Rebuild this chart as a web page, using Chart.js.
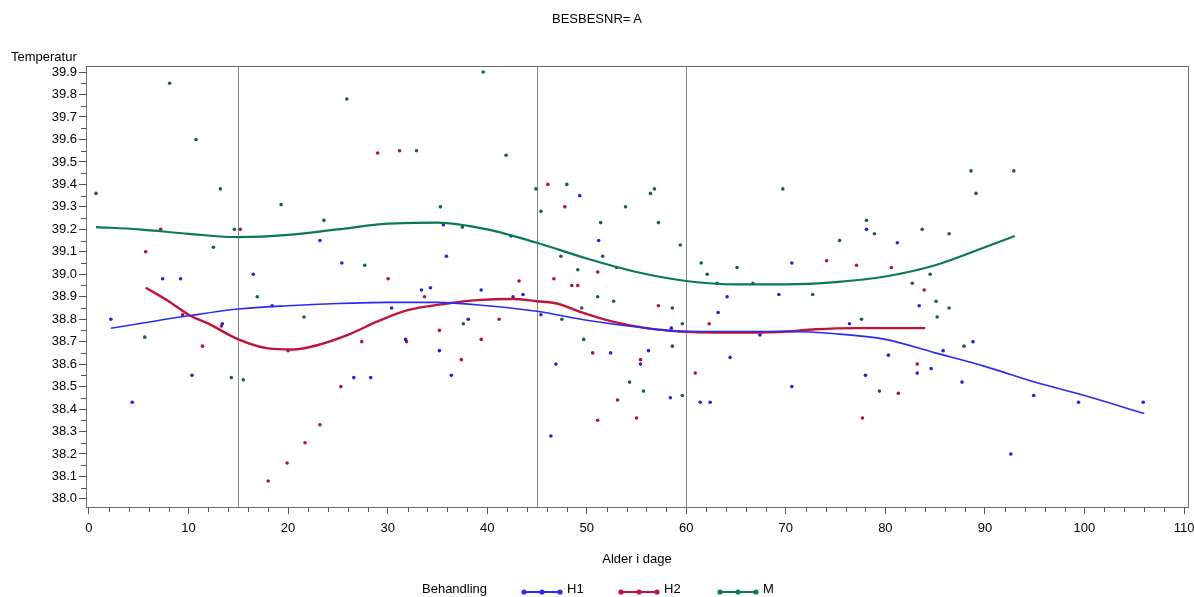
<!DOCTYPE html>
<html>
<head>
<meta charset="utf-8">
<script src="https://cdn.jsdelivr.net/npm/chart.js@4"></script>
<style>
  html, body { margin: 0; padding: 0; background: #fff; }
  #wrap { position: relative; width: 1194px; height: 597px; font-family: "Liberation Sans", Arial, sans-serif; color: #000; }
  #chart { position: absolute; left: 0; top: 0; }
  .lbl { position: absolute; font-size: 13px; line-height: 15px; white-space: nowrap; }
  .sym { position: absolute; }
</style>
</head>
<body>
<div id="wrap">
  <canvas id="chart" width="1194" height="597"></canvas>
  <div class="lbl" style="left:0;width:1194px;text-align:center;top:11px;">BESBESNR= A</div>
  <div class="lbl" style="left:11px;top:49px;">Temperatur</div>
  <div class="lbl" style="left:86px;width:1102px;text-align:center;top:551px;">Alder i dage</div>
  <div id="legend"></div>
</div>
<script>
// Series names and colours
const seriesNames = ['H1', 'H2', 'M'];
const lineColors = ['#2b2bf0', '#c0143c', '#0a7a50'];
const dotColors = ['#2424d8', '#b01238', '#1d5e48'];

// Axis ticks
const xTickLabels = [0, 10, 20, 30, 40, 50, 60, 70, 80, 90, 100, 110];
const yTickLabels = ['38.0', '38.1', '38.2', '38.3', '38.4', '38.5', '38.6', '38.7', '38.8', '38.9',
                     '39.0', '39.1', '39.2', '39.3', '39.4', '39.5', '39.6', '39.7', '39.8', '39.9'];
const refLines = [15, 45, 60];

// Observations - H1
const h1X = [2.2, 4.35, 7.4, 9.2, 10.35, 13.4, 16.5, 18.4, 23.2, 25.4, 26.6, 28.3, 30.4, 31.8, 33.4, 34.3,
             35.2, 35.6, 35.9, 36.4, 38.1, 39.4, 42.4, 42.6, 43.6, 45.4, 46.4, 46.9, 49.3, 51.2, 52.4, 55.4,
             56.2, 58.4, 58.5, 61.4, 62.4, 63.2, 64.1, 64.4, 67.4, 69.3, 70.6, 70.6, 76.4, 78.0, 78.1, 80.3,
             81.2, 83.2, 83.4, 84.6, 85.8, 87.7, 88.8, 92.6, 94.9, 99.4, 105.9];
const h1Y = [38.80, 38.43, 38.98, 38.98, 38.55, 38.78, 39.00, 38.86, 39.15, 39.05, 38.54, 38.54, 38.85, 38.71, 38.93, 38.94,
             38.66, 39.22, 39.08, 38.55, 38.80, 38.93, 39.17, 38.90, 38.91, 38.82, 38.28, 38.60, 39.35, 39.15, 38.65, 38.60,
             38.66, 38.45, 38.76, 38.43, 38.43, 38.83, 38.90, 38.63, 38.73, 38.91, 39.05, 38.50, 38.78, 38.55, 39.20, 38.64,
             39.14, 38.56, 38.86, 38.58, 38.66, 38.52, 38.70, 38.20, 38.46, 38.43, 38.43];

// Observations - H2
const h2X = [5.7, 7.2, 9.4, 11.4, 13.3, 15.2, 18.0, 19.9, 20.0, 21.7, 23.2, 25.3, 27.4, 29.0, 30.05, 31.2,
             31.9, 33.7, 35.2, 37.4, 39.4, 41.2, 43.2, 46.1, 46.7, 47.8, 48.5, 49.1, 50.6, 51.1, 51.1, 53.0,
             53.1, 55.0, 55.4, 57.2, 60.9, 62.3, 74.1, 77.1, 77.7, 80.6, 81.3, 83.2, 83.9];
const h2Y = [39.10, 39.20, 38.82, 38.68, 38.77, 39.20, 38.08, 38.16, 38.66, 38.25, 38.33, 38.50, 38.70, 39.54, 38.98, 39.55,
             38.70, 38.90, 38.75, 38.62, 38.71, 38.80, 38.97, 39.40, 38.98, 39.30, 38.95, 38.95, 38.65, 39.01, 38.35, 39.03,
             38.44, 38.36, 38.62, 38.86, 38.56, 38.78, 39.06, 39.04, 38.36, 39.03, 38.47, 38.60, 38.93];

// Observations - M
const mX = [0.7, 5.6, 8.1, 10.75, 12.5, 13.2, 14.3, 14.6, 15.5, 16.9, 19.3, 21.6, 23.6, 25.9, 27.7, 32.9,
            35.3, 37.5, 37.6, 39.6, 41.9, 44.9, 45.4, 47.4, 47.5, 48.0, 49.1, 49.5, 49.7, 51.1, 51.4, 51.6,
            52.7, 53.9, 54.3, 55.7, 56.4, 56.8, 57.2, 58.6, 58.6, 59.4, 59.6, 59.6, 61.5, 62.1, 63.1, 65.1,
            66.7, 69.7, 72.7, 75.4, 77.6, 78.1, 78.9, 79.4, 82.7, 83.7, 84.5, 85.1, 85.2, 86.4, 86.4, 87.9,
            88.6, 89.1, 92.9];
const mY = [39.36, 38.72, 39.85, 39.60, 39.12, 39.38, 38.54, 39.20, 38.53, 38.90, 39.31, 38.81, 39.24, 39.78, 39.04, 39.55,
            39.30, 39.21, 38.78, 39.90, 39.53, 39.38, 39.28, 39.08, 38.80, 39.40, 39.02, 38.85, 38.71, 38.90, 39.23, 39.08,
            38.88, 39.30, 38.52, 38.48, 39.36, 39.38, 39.23, 38.85, 38.68, 39.13, 38.78, 38.46, 39.05, 39.00, 38.96, 39.03,
            38.96, 39.38, 38.91, 39.15, 38.80, 39.24, 39.18, 38.48, 38.96, 39.20, 39.00, 38.88, 38.81, 39.18, 38.85, 38.68,
            39.46, 39.36, 39.46];

// Smoothed curves
const h1FitX = [2.2, 5, 10, 15, 20, 25, 30, 35, 40, 45, 50, 55, 60, 65, 70, 75, 80, 85, 90, 95, 100, 106];
const h1FitY = [38.76, 38.78, 38.815, 38.845, 38.86, 38.87, 38.875, 38.875, 38.86, 38.835, 38.795, 38.765,
                38.745, 38.745, 38.745, 38.735, 38.71, 38.65, 38.59, 38.52, 38.46, 38.38];
const h2FitX = [5.7, 8, 10, 12, 15, 18, 20.5, 23, 26, 29, 32, 36, 39, 42.5, 45, 47, 49.5, 52.5, 56, 59.5,
                63, 67, 70, 73, 77, 80, 84];
const h2FitY = [38.94, 38.88, 38.82, 38.78, 38.71, 38.67, 38.665, 38.685, 38.73, 38.79, 38.84, 38.87, 38.885,
                38.89, 38.88, 38.87, 38.83, 38.79, 38.76, 38.745, 38.74, 38.74, 38.745, 38.755, 38.76, 38.76, 38.76];
const mFitX = [0.7, 5, 10, 15, 20, 25, 30, 35, 40, 45, 50, 55, 60, 65, 70, 75, 80, 85, 90, 93];
const mFitY = [39.21, 39.20, 39.18, 39.165, 39.175, 39.20, 39.225, 39.23, 39.20, 39.14, 39.07, 39.01,
               38.97, 38.955, 38.955, 38.965, 38.99, 39.04, 39.12, 39.17];

const pts = (xs, ys) => xs.map((x, i) => ({ x: x, y: ys[i] }));

const pointSets = [pts(h1X, h1Y), pts(h2X, h2Y), pts(mX, mY)];
const fitSets = [pts(h1FitX, h1FitY), pts(h2FitX, h2FitY), pts(mFitX, mFitY)];
const lineWidths = [1.6, 2.4, 2.2];

const datasets = [];
seriesNames.forEach((name, i) => {
    datasets.push({
        label: name,
        data: pointSets[i],
        showLine: false,
        pointRadius: 1.8,
        pointBackgroundColor: dotColors[i],
        pointBorderWidth: 0,
        order: 2
    });
    datasets.push({
        label: name + ' fit',
        data: fitSets[i],
        showLine: true,
        borderColor: lineColors[i],
        borderWidth: lineWidths[i],
        pointRadius: 0,
        cubicInterpolationMode: 'monotone',
        order: 1
    });
});

// Reference lines, frame and minor ticks
const decorPlugin = {
    id: 'decor',
    beforeDatasetsDraw(chart) {
        const ctx = chart.ctx, a = chart.chartArea, xs = chart.scales.x;
        ctx.save();
        ctx.strokeStyle = '#8a8a8a';
        ctx.lineWidth = 1;
        refLines.forEach(v => {
            const px = Math.round(xs.getPixelForValue(v)) + 0.5;
            ctx.beginPath();
            ctx.moveTo(px, a.top);
            ctx.lineTo(px, a.bottom);
            ctx.stroke();
        });
        ctx.restore();
    },
    afterDraw(chart) {
        const ctx = chart.ctx, a = chart.chartArea;
        const xs = chart.scales.x, ys = chart.scales.y;
        ctx.save();
        ctx.strokeStyle = '#555';
        ctx.lineWidth = 1;
        // minor ticks
        for (let i = 0; i < xTickLabels.length - 1; i++) {
            for (let k = 1; k < 5; k++) {
                const v = xTickLabels[i] + (xTickLabels[i + 1] - xTickLabels[i]) * k / 5;
                const px = Math.round(xs.getPixelForValue(v)) + 0.5;
                ctx.beginPath();
                ctx.moveTo(px, a.bottom);
                ctx.lineTo(px, a.bottom + 5);
                ctx.stroke();
            }
        }
        for (let i = 0; i < yTickLabels.length - 1; i++) {
            const v = (parseFloat(yTickLabels[i]) + parseFloat(yTickLabels[i + 1])) / 2;
            const py = Math.round(ys.getPixelForValue(v)) + 0.5;
            ctx.beginPath();
            ctx.moveTo(a.left, py);
            ctx.lineTo(a.left - 5, py);
            ctx.stroke();
        }
        // frame
        ctx.strokeStyle = '#6e6e6e';
        ctx.strokeRect(Math.round(a.left) + 0.5, Math.round(a.top) + 0.5,
                       Math.round(a.right - a.left), Math.round(a.bottom - a.top));
        ctx.restore();
    }
};

const tickFont = { family: '"Liberation Sans", Arial, sans-serif', size: 13 };

new Chart(document.getElementById('chart').getContext('2d'), {
    type: 'scatter',
    data: { datasets: datasets },
    options: {
        responsive: false,
        animation: false,
        events: [],
        layout: { padding: { left: 0, top: 66, right: 6, bottom: 50 } },
        plugins: {
            legend: { display: false },
            tooltip: { enabled: false },
            title: { display: false }
        },
        scales: {
            x: {
                type: 'linear',
                min: -0.3,
                max: 110.4,
                afterBuildTicks: scale => { scale.ticks = xTickLabels.map(v => ({ value: v })); },
                afterFit: scale => { scale.height = 40; scale.paddingLeft = 0; scale.paddingRight = 0; },
                grid: { drawOnChartArea: false, drawTicks: true, tickLength: 7, color: '#555' },
                border: { display: true, color: '#6e6e6e' },
                ticks: { color: '#000', font: tickFont, padding: 7, maxRotation: 0, autoSkip: false,
                         callback: v => String(v) }
            },
            y: {
                type: 'linear',
                min: 37.964,
                max: 39.927,
                afterBuildTicks: scale => { scale.ticks = yTickLabels.map(s => ({ value: parseFloat(s) })); },
                afterFit: scale => { scale.width = 86; scale.paddingTop = 0; scale.paddingBottom = 0; },
                grid: { drawOnChartArea: false, drawTicks: true, tickLength: 7, color: '#555' },
                border: { display: true, color: '#6e6e6e' },
                ticks: { color: '#000', font: tickFont, padding: 2, autoSkip: false,
                         callback: v => v.toFixed(1) }
            }
        }
    },
    plugins: [decorPlugin]
});

// Legend (HTML)
const legend = document.getElementById('legend');
const legendSymX = [521, 618, 717];
const head = document.createElement('div');
head.className = 'lbl';
head.style.left = '422px';
head.style.top = '581px';
head.textContent = 'Behandling';
legend.appendChild(head);
seriesNames.forEach((name, i) => {
    const c = lineColors[i];
    const sym = document.createElement('div');
    sym.className = 'sym';
    sym.style.left = legendSymX[i] + 'px';
    sym.style.top = '583px';
    sym.innerHTML = '<svg width="42" height="10"><line x1="2" y1="5" x2="40" y2="5" stroke="' + c +
        '" stroke-width="2"/><circle cx="3" cy="5" r="2.6" fill="' + c + '"/><circle cx="21" cy="5" r="2.6" fill="' + c +
        '"/><circle cx="39" cy="5" r="2.6" fill="' + c + '"/></svg>';
    legend.appendChild(sym);
    const t = document.createElement('div');
    t.className = 'lbl';
    t.style.left = (legendSymX[i] + 46) + 'px';
    t.style.top = '581px';
    t.textContent = name;
    legend.appendChild(t);
});
</script>
</body>
</html>
